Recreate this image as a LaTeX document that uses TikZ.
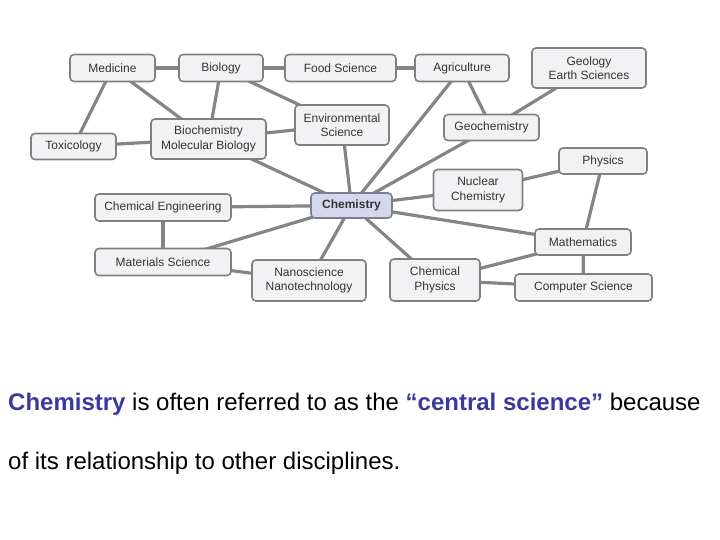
\documentclass[tikz,border=0pt]{standalone}
\usepackage{fontspec}
\setmainfont{Liberation Sans}
\usetikzlibrary{backgrounds}
\definecolor{boxfill}{HTML}{F2F2F4}
\definecolor{boxline}{HTML}{808080}
\definecolor{chemfill}{HTML}{D5D7EE}
\definecolor{conncol}{HTML}{858585}
\definecolor{txt}{HTML}{333333}
\definecolor{blu}{HTML}{3A3A9E}
\tikzset{
  box/.style={draw=boxline, fill=boxfill, line width=1.6pt, rounded corners=4pt,
    inner sep=0pt, align=center, text=txt,
    font=\fontsize{12}{14.5}\selectfont},
  conn/.style={draw=conncol, line width=3.2pt},
}
\begin{document}
\begin{tikzpicture}[x=1pt,y=-1pt]
\useasboundingbox (0,0) rectangle (720,540);
% row 1
\node[box, minimum width=85pt, minimum height=27pt] (med) at (112.5,68) {Medicine};
\node[box, minimum width=84pt, minimum height=27pt] (bio) at (221,68) {Biology};
\node[box, minimum width=111pt, minimum height=27pt] (food) at (340.5,68) {Food Science};
\node[box, minimum width=94pt, minimum height=27pt] (agri) at (462,68) {Agriculture};
\node[box, minimum width=114pt, minimum height=40pt] (geol) at (589,68) {Geology\\Earth Sciences};
% row 2
\node[box, minimum width=85pt, minimum height=26pt] (tox) at (73.5,146.5) {Toxicology};
\node[box, minimum width=115pt, minimum height=40pt] (bioch) at (208.5,139) {Biochemistry\\Molecular Biology};
\node[box, minimum width=94pt, minimum height=40pt] (env) at (342,125) {Environmental\\Science};
\node[box, minimum width=95pt, minimum height=26pt] (geoch) at (491.5,127.5) {Geochemistry};
\node[box, minimum width=88pt, minimum height=26pt] (phys) at (603,161) {Physics};
% middle
\node[box, minimum width=89pt, minimum height=41pt] (nuc) at (478,190) {Nuclear\\Chemistry};
\node[box, fill=chemfill, draw={rgb,255:red,125;green,127;blue,145}, minimum width=81pt, minimum height=25pt] (chem) at (351.5,205.5) {\bfseries Chemistry};
\node[box, minimum width=136pt, minimum height=27pt] (cheng) at (163,207.5) {Chemical Engineering};
\node[box, minimum width=136pt, minimum height=27pt] (mat) at (163,262) {Materials Science};
\node[box, minimum width=114pt, minimum height=41pt] (nano) at (309,280.5) {Nanoscience\\Nanotechnology};
\node[box, minimum width=96pt, minimum height=26pt] (math) at (583,242) {Mathematics};
\node[box, minimum width=90pt, minimum height=42pt] (cphys) at (435,280) {Chemical\\Physics};
\node[box, minimum width=137pt, minimum height=27pt] (comp) at (583.5,287.5) {Computer Science};
\begin{pgfonlayer}{background}
\foreach \a/\b in {med/bio, bio/food, food/agri, med/tox, med/bioch, bio/bioch, bio/env,
  bioch/env, tox/bioch, bioch/chem, env/chem, agri/chem, agri/geoch, geol/geoch,
  geoch/chem, nuc/chem, nuc/phys, phys/math, chem/math, chem/cphys, math/cphys,
  math/comp, cphys/comp, chem/cheng, cheng/mat, mat/chem, mat/nano, nano/chem}
  \draw[conn] (\a.center) -- (\b.center);
\end{pgfonlayer}
% caption
\node[anchor=base west, inner sep=0pt, font=\fontsize{24}{28}\selectfont] (cap1) at (8,410)
  {\textcolor{blu}{\bfseries Chemistry} is often referred to as the \textcolor{blu}{\bfseries “central science”} because};
\node[anchor=base west, inner sep=0pt, font=\fontsize{24}{28}\selectfont] (cap2) at (8,469)
  {of its relationship to other disciplines.};
\end{tikzpicture}
\end{document}
